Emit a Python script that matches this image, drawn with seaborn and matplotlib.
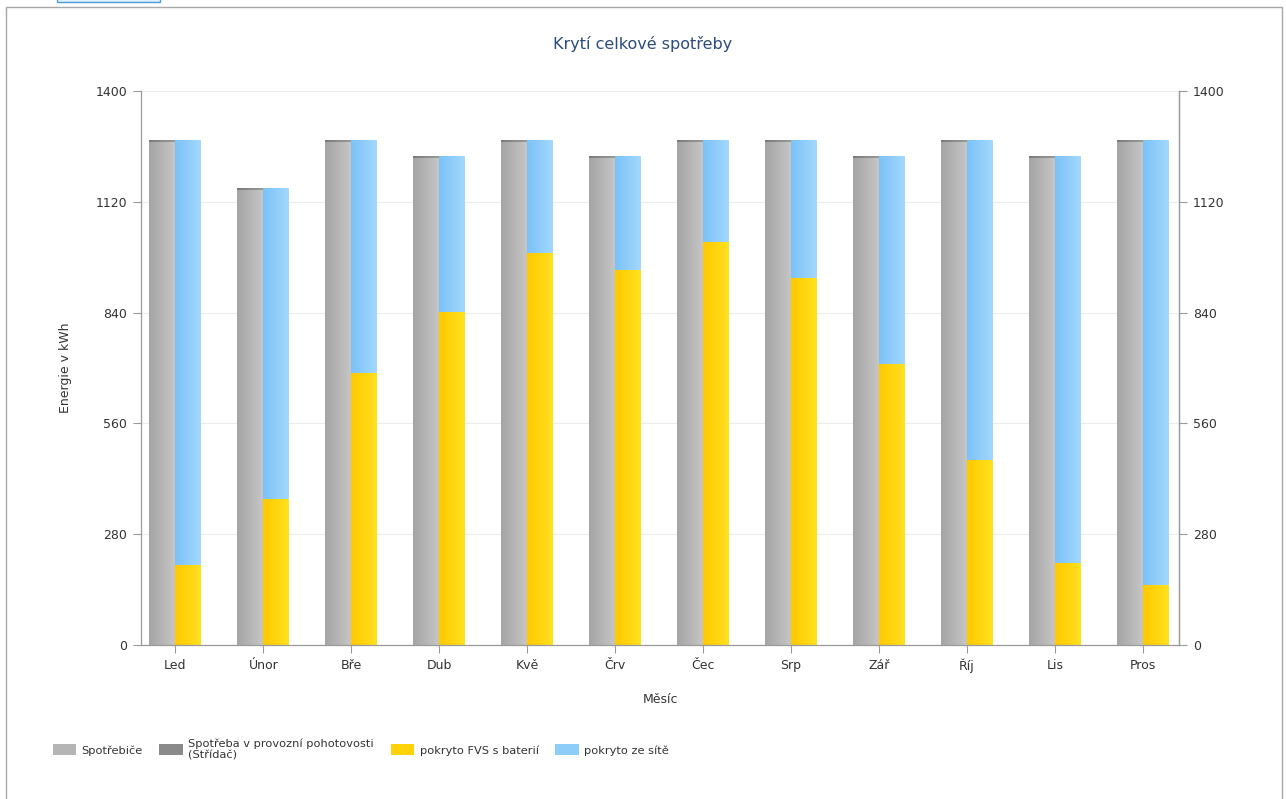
import numpy as np
import pandas as pd
import matplotlib
matplotlib.use("Agg")
import matplotlib.pyplot as plt
import matplotlib.colors as mcolors
from matplotlib.patches import Patch, Rectangle
import seaborn as sns

# Monthly energy balance (kWh)
months = ["Led", "Únor", "Bře", "Dub", "Kvě", "Črv", "Čec", "Srp", "Zář", "Říj", "Lis", "Pros"]
total = [1277, 1154, 1277, 1236, 1277, 1236, 1277, 1277, 1236, 1277, 1236, 1277]
standby = [5, 5, 5, 5, 5, 5, 5, 5, 5, 5, 5, 5]
fvs_battery = [202, 369, 687, 842, 991, 948, 1019, 927, 710, 468, 208, 152]

appliances = [t - s for t, s in zip(total, standby)]

legend_labels = ["Spotřebiče", "Spotřeba v provozní pohotovosti\n(Střídač)",
                 "pokryto FVS s baterií", "pokryto ze sítě"]

C_APPL = "#b5b5b5"
C_STANDBY = "#8a8a8a"
C_FVS = "#ffd20a"
C_GRID = "#8dcdfa"

# left/right shades for the horizontal bar gradient
GRAD = {
    C_APPL: ("#a4a4a4", "#c6c6c6"),
    C_STANDBY: ("#7c7c7c", "#9a9a9a"),
    C_FVS: ("#ffc800", "#ffe21e"),
    C_GRID: ("#7cc2f7", "#a2d8fd"),
}

sns.set_theme(style="white")
plt.rcParams["font.family"] = ["DejaVu Sans"]

fig = plt.figure(figsize=(12.86, 7.99), dpi=100)
ax = fig.add_axes([141 / 1286, 1 - 645 / 799, (1179 - 141) / 1286, (645 - 91) / 799])

# back layer: full totals (standby strip on the left, grid supply on the right)
back = pd.DataFrame({
    "month": months * 2,
    "slot": ["a"] * 12 + ["b"] * 12,
    "value": total + total,
})
sns.barplot(data=back, x="month", y="value", hue="slot", order=months,
            hue_order=["a", "b"], palette=[C_STANDBY, C_GRID], width=0.59,
            gap=0, saturation=1, legend=False, linewidth=0, ax=ax, errorbar=None)

# front layer: appliances on the left, PV+battery coverage on the right
front = pd.DataFrame({
    "month": months * 2,
    "slot": ["a"] * 12 + ["b"] * 12,
    "value": appliances + fvs_battery,
})
sns.barplot(data=front, x="month", y="value", hue="slot", order=months,
            hue_order=["a", "b"], palette=[C_APPL, C_FVS], width=0.59,
            gap=0, saturation=1, legend=False, linewidth=0, ax=ax, errorbar=None)

# horizontal gradient fill clipped to each bar
for i, p in enumerate(list(ax.patches)):
    fc = mcolors.to_hex(p.get_facecolor())
    if fc not in GRAD:
        continue
    c0, c1 = (np.array(mcolors.to_rgba(c)) for c in GRAD[fc])
    t = np.linspace(0, 1, 64)[None, :, None]
    img = c0[None, None, :] * (1 - t) + c1[None, None, :] * t
    x, y = p.get_x(), p.get_y()
    w, h = p.get_width(), p.get_height()
    im = ax.imshow(img, extent=[x, x + w, y, y + h], aspect="auto",
                   interpolation="bilinear", zorder=2 + i * 0.001)
    im.set_clip_path(p)

ax.set_xlim(-0.39, 11.41)
ax.set_ylim(0, 1400)
yt = [0, 280, 560, 840, 1120, 1400]
ax.set_yticks(yt)
ax.set_yticklabels([str(v) for v in yt])
ax.yaxis.grid(True, color="#ececec", linewidth=0.8)
ax.set_axisbelow(True)

spine_c = "#9a9a9a"
ax.spines["top"].set_visible(False)
for s in ["left", "bottom", "right"]:
    ax.spines[s].set_color(spine_c)
    ax.spines[s].set_linewidth(0.9)

ax.tick_params(axis="both", which="major", length=6, width=0.8, color=spine_c,
               labelsize=9, labelcolor="#333333", direction="out",
               bottom=True, left=True, pad=4)

ax2 = ax.twinx()
ax2.set_ylim(0, 1400)
ax2.set_yticks(yt)
ax2.set_yticklabels([str(v) for v in yt])
for s in ["top", "left", "bottom"]:
    ax2.spines[s].set_visible(False)
ax2.spines["right"].set_color(spine_c)
ax2.spines["right"].set_linewidth(0.9)
ax2.tick_params(axis="y", length=6, width=0.8, color=spine_c, labelsize=9,
                labelcolor="#333333", direction="out", right=True, pad=4)
ax2.grid(False)

ax.set_xlabel("Měsíc", fontsize=9, color="#333333", labelpad=14)
ax.set_ylabel("Energie v kWh", fontsize=9, color="#333333", labelpad=17)

fig.text(0.5, 1 - 44 / 799, "Krytí celkové spotřeby", ha="center", va="center",
         fontsize=11.5, color="#2d4b7c")

handles = [Patch(facecolor=C_APPL, edgecolor="none"),
           Patch(facecolor=C_STANDBY, edgecolor="none"),
           Patch(facecolor=C_FVS, edgecolor="none"),
           Patch(facecolor=C_GRID, edgecolor="none")]
fig.legend(handles, legend_labels, loc="upper left",
           bbox_to_anchor=(48 / 1286, 1 - 734 / 799), ncol=4, frameon=False,
           fontsize=8.2, handlelength=2.1, handleheight=1.05, columnspacing=1.45,
           handletextpad=0.45, labelcolor="#333333", borderaxespad=0)

# outer frame and tab marker
fig.patches.append(Rectangle((6 / 1286, -0.02), 1276 / 1286, 1.02 - 7 / 799,
                             transform=fig.transFigure, fill=False,
                             edgecolor="#a8a8a8", linewidth=1.0))
fig.patches.append(Rectangle((57 / 1286, 1 - 2 / 799), 103 / 1286, 4 / 799,
                             transform=fig.transFigure, facecolor="#dff0fb",
                             edgecolor="#4a9ad8", linewidth=1.0))

fig.savefig("out.png", dpi=100)
